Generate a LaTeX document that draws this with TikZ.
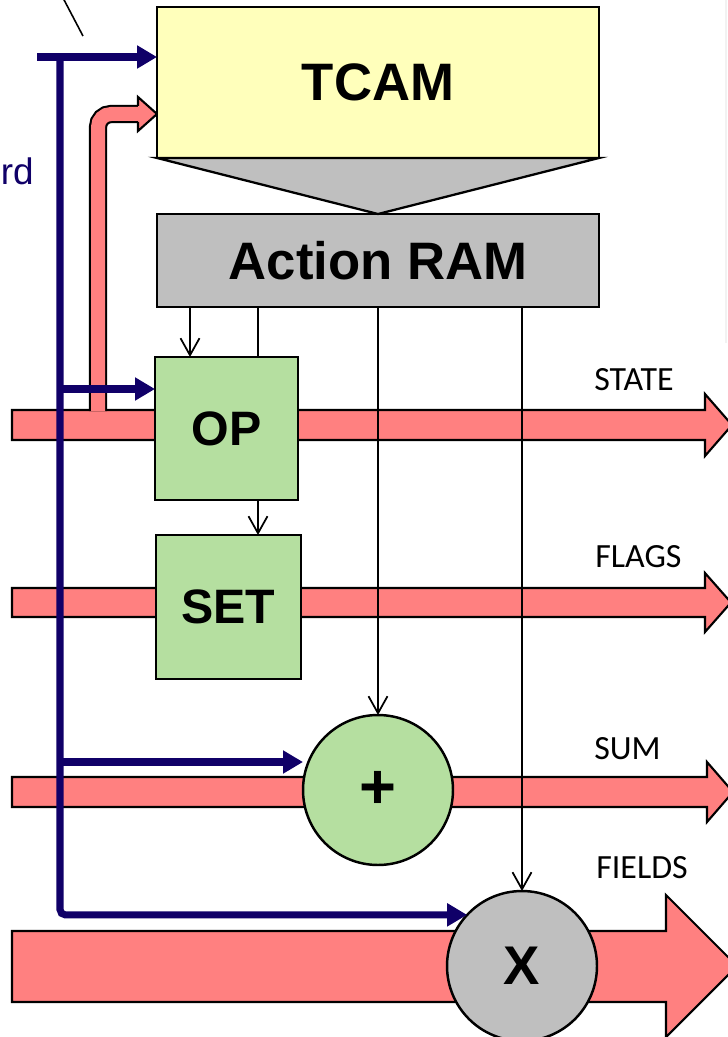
\documentclass[tikz,border=0pt]{standalone}
\usepackage{fontspec}
\setmainfont{Liberation Sans}
\newfontfamily\labelfont{Carlito}
\usetikzlibrary{arrows.meta}
\definecolor{navyline}{RGB}{16,0,104}
\definecolor{tcamyellow}{RGB}{255,255,187}
\definecolor{ramgray}{RGB}{191,191,191}
\definecolor{opgreen}{RGB}{181,223,160}
\definecolor{barred}{RGB}{255,128,128}
\pgfdeclarelayer{bg}
\pgfsetlayers{bg,main}
\begin{document}
\begin{tikzpicture}[x=0.02cm,y=-0.02cm,
  unit/.style={draw, line width=1.4pt, inner sep=0pt, outer sep=0pt},
  boxfont/.style={font=\fontsize{30}{36}\selectfont\bfseries},
  opfont/.style={font=\fontsize{27.5}{32}\selectfont\bfseries},
  flowbar/.style={fill=barred, draw, line width=1.2pt, line join=miter},
  tap/.style={line width=1pt, -{Straight Barb[length=0.34cm,width=0.38cm]}},
  plainwire/.style={line width=1pt},
  navyarrow/.style={draw=navyline, line width=4pt, -{Triangle[length=0.4cm,width=0.44cm]}, navyline},
  buslabel/.style={anchor=base west, inner sep=0pt, font=\labelfont\fontsize{19.3}{23}\selectfont}]
\useasboundingbox (0,0) rectangle (727,1037);
\clip (0,0) rectangle (727,1037);

% pipeline blocks
\node[unit, fill=tcamyellow, minimum width=8.84cm, minimum height=3.02cm, boxfont] (tcam) at (378,82.5) {TCAM};
\node[unit, fill=ramgray, minimum width=8.84cm, minimum height=1.86cm, boxfont] (aram) at (378,260.5) {Action RAM};
\node[unit, fill=opgreen, minimum width=2.86cm, minimum height=2.86cm, opfont] (op) at (226.5,428.5) {OP};
\node[unit, fill=opgreen, minimum width=2.9cm, minimum height=2.88cm, opfont] (set) at (228.5,607) {SET};
\node[unit, circle, fill=opgreen, minimum size=3cm, font=\fontsize{36}{40}\selectfont\bfseries] (plus) at (378,790) {+};
\node[unit, circle, fill=ramgray, minimum size=3cm, font=\fontsize{31}{36}\selectfont\bfseries] (mul) at (522,966) {X};

% lookup result funnel
\draw[fill=ramgray, line width=1.3pt, line join=miter] (tcam.south west) -- (aram.north) -- (tcam.south east) -- cycle;

% data buses
\begin{pgfonlayer}{bg}
\draw[flowbar] (12,410) -- (705,410) -- (705,394) -- (732,425) -- (705,456) -- (705,440) -- (12,440) -- cycle;
\draw[flowbar] (12,588) -- (705,588) -- (705,573) -- (731,602.5) -- (705,632) -- (705,617) -- (12,617) -- cycle;
\draw[flowbar] (12,777) -- (707,777) -- (707,762) -- (733,792) -- (707,822) -- (707,807) -- (12,807) -- cycle;
\draw[flowbar] (12,931) -- (666,931) -- (666,895) -- (737,966) -- (666,1037) -- (666,1002) -- (12,1002) -- cycle;
% state fed back into the TCAM key
\draw[line width=1.2pt, double=barred, double distance=0.28cm, rounded corners=0.26cm] (98,411) |- (138,114);
\filldraw[fill=barred, line width=1.2pt, line join=miter] (138,106) -- (138,97) -- (157,114) -- (138,131) -- (138,122);
\end{pgfonlayer}

\node[buslabel] (lstate) at (594,390) {STATE};
\node[buslabel] (lflags) at (595,567) {FLAGS};
\node[buslabel] (lsum) at (594,759) {SUM};
\node[buslabel] (lfields) at (596,878) {FIELDS};

% action RAM taps
\coordinate (xa) at (190,0);
\coordinate (xb) at (258,0);
\draw[tap] (aram.south -| xa) -- (op.north -| xa);
\draw[plainwire] (aram.south -| xb) -- (op.north -| xb);
\draw[tap] (op.south -| xb) -- (set.north -| xb);
\draw[tap] (aram.south) -- (plus.north);
\draw[tap] (aram.south -| mul.north) -- (mul.north);

% key / immediate bus
\coordinate (feed) at (37,57);
\coordinate (spine) at (60,57);
\coordinate (opfeed) at (60,389);
\coordinate (sumfeed) at (60,762);
\draw[navyarrow] (feed) -- (feed -| tcam.west);
\draw[navyarrow, rounded corners=3pt] (spine) |- (mul.137);
\draw[navyarrow] (opfeed) -- (opfeed -| op.west);
\draw[navyarrow] (sumfeed) -- (sumfeed -| plus.west);

\node[anchor=base east, inner sep=0pt, text=navyline, font=\fontsize{21}{25}\selectfont] (rd) at (34,185) {rd};

% pointer line and frame edge
\coordinate (ptra) at (62,-4);
\coordinate (ptrb) at (83,36);
\draw[line width=0.9pt] (ptra) -- (ptrb);
\coordinate (fa) at (726,0);
\coordinate (fb) at (726,343);
\draw[gray!10, line width=0.6pt] (fa) -- (fb);
\end{tikzpicture}
\end{document}
